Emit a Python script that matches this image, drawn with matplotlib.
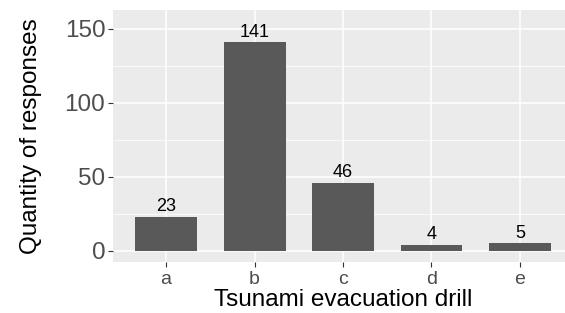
import matplotlib.pyplot as plt

plt.rcParams['font.family'] = ['Liberation Sans', 'DejaVu Sans']

# data
drills = ['a', 'b', 'c', 'd', 'e']
counts = [23, 141, 46, 4, 5]

fig = plt.figure(figsize=(5.65, 3.13), dpi=100)
ax = fig.add_axes([113 / 565, (313 - 262) / 313, 460 / 565, 252 / 313])
ax.set_facecolor('#EBEBEB')

pos = list(range(len(drills)))
ax.bar(pos, counts, width=0.7, color='#595959', zorder=3)
for p, c in zip(pos, counts):
    ax.text(p, c + 0.8, str(c), ha='center', va='bottom', fontsize=13, color='black', zorder=4)

ax.set_xlim(-0.6, len(drills) - 0.4)
ax.set_ylim(-7.75, 162.75)
ax.set_yticks([0, 50, 100, 150])
ax.set_yticks([25, 75, 125], minor=True)
ax.set_xticks(pos)
ax.set_xticklabels(drills)

ax.grid(which='major', color='white', linewidth=1.1, zorder=0)
ax.grid(which='minor', axis='y', color='white', linewidth=0.55, zorder=0)
ax.set_axisbelow(True)
for sp in ax.spines.values():
    sp.set_visible(False)

ax.tick_params(axis='y', which='major', labelsize=17.5, labelcolor='#4D4D4D', color='#333333', length=3.5, width=0.8, pad=2)
ax.tick_params(axis='x', which='major', labelsize=14, labelcolor='#4D4D4D', color='#333333', length=3.5, width=0.8, pad=3)
ax.tick_params(which='minor', length=0)

ax.set_xlabel('Tsunami evacuation drill', fontsize=17.5, labelpad=1)
ax.set_ylabel('Quantity of responses', fontsize=17.5, labelpad=16)

fig.savefig('out.png', dpi=100)
